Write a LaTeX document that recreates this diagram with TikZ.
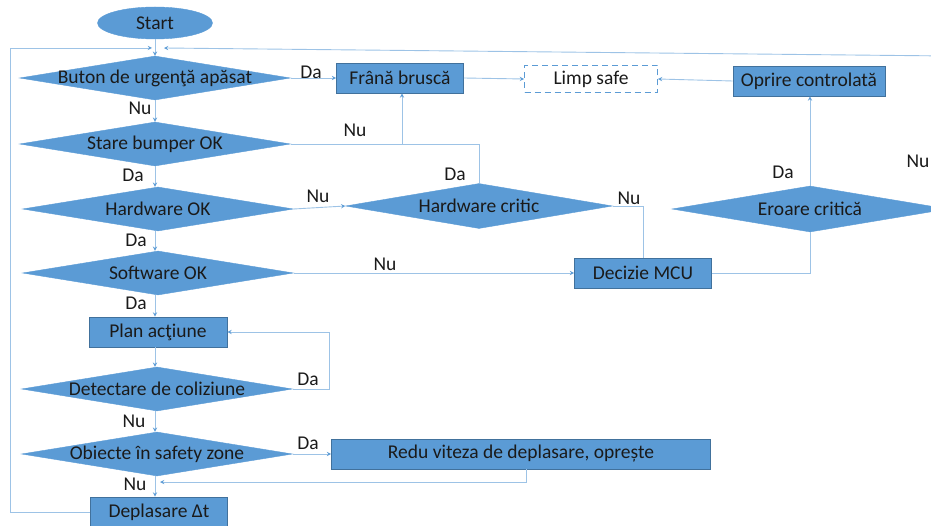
\documentclass[tikz,border=0pt]{standalone}
\usepackage{fontspec}
\setmainfont{Carlito}
\usepackage{xcolor}
\usetikzlibrary{shapes,shapes.geometric,arrows,positioning,calc}

\definecolor{boxblue}{HTML}{5B9BD5}
\definecolor{boxedge}{HTML}{41719C}
\definecolor{wire}{HTML}{9DC3E6}
\definecolor{tipblue}{HTML}{5B9BD5}
\definecolor{ink}{HTML}{1A1A1A}

\newcommand{\dtxt}[1]{\makebox[0pt]{#1}}

\begin{document}
\begin{tikzpicture}[
    x=1pt, y=-1pt,
    every node/.style={font=\fontsize{19.5}{23}\selectfont, text=ink},
    decision/.style={diamond, draw=boxblue, fill=boxblue, inner sep=0pt,
                     minimum width=271pt, minimum height=44pt},
    proc/.style={rectangle, draw=boxedge, line width=0.8pt, fill=boxblue,
                 minimum height=30pt, inner sep=2pt},
    term/.style={ellipse, draw=boxblue, fill=boxblue,
                 minimum width=115pt, minimum height=32pt},
    limpbox/.style={rectangle, draw=boxblue, dashed, line width=0.8pt,
                    dash pattern=on 6pt off 4pt, fill=white,
                    minimum width=133pt, minimum height=27pt},
    lbl/.style={inner sep=1pt},
    flow/.style={draw=wire, line width=0.9pt, -{>[color=tipblue]}, >=stealth},
    wireonly/.style={draw=wire, line width=0.9pt},
  ]
  \useasboundingbox (0,0) rectangle (931,526);

  % Main column
  \node[term] (start) at (155,23) {Start};
  \node[decision] (btn) at (155,78) {\dtxt{Buton de urgenţă apăsat}};
  \node[decision] (bump) at (155,144) {\dtxt{Stare bumper OK}};
  \node[decision] (hw) at (158,209) {\dtxt{Hardware OK}};
  \node[decision] (sw) at (158,273) {\dtxt{Software OK}};
  \node[proc, minimum width=138pt] (plan) at (158,332) {Plan acţiune};
  \node[decision] (coll) at (157,389) {\dtxt{Detectare de coliziune}};
  \node[decision] (zone) at (157,454) {\dtxt{Obiecte în safety zone}};
  \node[proc, minimum width=137pt] (move) at (159,512) {Deplasare Δt};

  % Right side
  \node[proc, minimum width=127pt] (brake) at (400,78) {Frână bruscă};
  \node[limpbox] (limp) at (591,79) {Limp safe};
  \node[proc, minimum width=152pt] (stopc) at (809,81) {Oprire controlată};
  \node[decision, minimum width=267pt, minimum height=45pt] (hwcrit) at (479,206) {\dtxt{Hardware critic}};
  \node[decision, minimum width=276pt, minimum height=46pt] (errcrit) at (810,209) {\dtxt{Eroare critică}};
  \node[proc, minimum width=137pt] (mcu) at (643,273) {Decizie MCU};
  \node[proc, minimum width=379pt] (slow) at (521,454) {Redu viteza de deplasare, oprește};

  % Helper points
  \coordinate (topL) at (10,48);
  \coordinate (topR) at (948,56);
  \coordinate (hitL) at (152,48);
  \coordinate (hitR) at (164,48);
  \coordinate (join) at (402,144);
  \coordinate (back) at (160,482);

  % Main column links
  \draw[flow] (start) -- (btn);
  \draw[flow] (btn) -- (bump);
  \draw[flow] (bump) -- (bump |- hw.north);
  \draw[flow] (bump |- hw.south) -- (bump |- sw.north);
  \draw[flow] (bump |- sw.south) -- (bump |- plan.north);
  \draw[flow] (bump |- plan.south) -- (bump |- coll.north);
  \draw[flow] (bump |- coll.south) -- (bump |- zone.north);
  \draw[flow] (bump |- zone.south) -- (bump |- move.north);

  % Branches
  \draw[flow] (btn.east) -- (brake.west);
  \draw[wireonly] (bump.east) -- (join);
  \draw[flow] (hwcrit.north) |- (join) -- (join |- brake.south);
  \draw[flow] (hw.east) -- (hwcrit.west);
  \draw[wireonly] (hwcrit.east) -| (mcu.north);
  \draw[flow] (sw.east) -- (mcu.west);
  \draw[wireonly] (mcu.east) -| (errcrit.south);
  \draw[flow] (errcrit.north) -- (errcrit |- stopc.south);
  \draw[flow] (stopc.west) -- (limp.east);
  \draw[flow] (brake.east) -- (limp.west);
  \draw[wireonly] (errcrit.east) -- (topR);
  \draw[flow] (topR) -- (hitR);
  \draw[flow] (coll.east) -- ++(37,0) |- (plan.east);
  \draw[flow] (zone.east) -- (slow.west);
  \draw[flow] (slow.south -| 526,0) |- (back);
  \draw[flow] (move.west) -| (topL) -- (hitL);

  % Labels
  \node[lbl] (l1) at (311,72) {Da};
  \node[lbl] (l2) at (140,108) {Nu};
  \node[lbl] (l3) at (355,130) {Nu};
  \node[lbl] (l4) at (133,175) {Da};
  \node[lbl] (l5) at (455,174) {Da};
  \node[lbl] (l6) at (318,196) {Nu};
  \node[lbl] (l7) at (629,198) {Nu};
  \node[lbl] (l8) at (136,240) {Da};
  \node[lbl] (l9) at (385,264) {Nu};
  \node[lbl] (l10) at (136,303) {Da};
  \node[lbl] (l11) at (783,172) {Da};
  \node[lbl] (l12) at (918,161) {Nu};
  \node[lbl] (l13) at (308,379) {Da};
  \node[lbl] (l14) at (134,421) {Nu};
  \node[lbl] (l15) at (308,443) {Da};
  \node[lbl] (l16) at (135,484) {Nu};
\end{tikzpicture}
\end{document}
